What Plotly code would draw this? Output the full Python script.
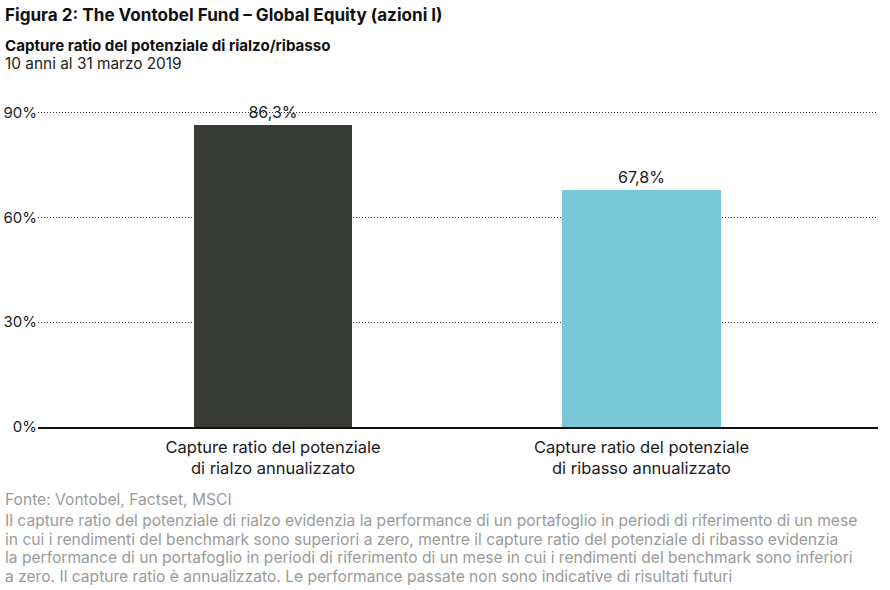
import plotly.graph_objects as go

# ── Data ────────────────────────────────────────────────────────
categories = ["Capture ratio del potenziale<br>di rialzo annualizzato",
              "Capture ratio del potenziale<br>di ribasso annualizzato"]
values = [86.3, 67.8]
value_labels = ["86,3%", "67,8%"]
bar_colors = ["#373a35", "#79c8d7"]
y_ticks = [0, 30, 60, 90]
y_tick_labels = ["0%", "30%", "60%", "90%"]

title = "Figura 2: The Vontobel Fund – Global Equity (azioni I)"
subtitle = "Capture ratio del potenziale di rialzo/ribasso"
period = "10 anni al 31 marzo 2019"
source = "Fonte: Vontobel, Factset, MSCI"
notes = [
    "Il capture ratio del potenziale di rialzo evidenzia la performance di un portafoglio in periodi di riferimento di un mese",
    "in cui i rendimenti del benchmark sono superiori a zero, mentre il capture ratio del potenziale di ribasso evidenzia",
    "la performance di un portafoglio in periodi di riferimento di un mese in cui i rendimenti del benchmark sono inferiori",
    "a zero. Il capture ratio è annualizzato. Le performance passate non sono indicative di risultati futuri",
]

FONT = "Inter"
W, H = 890, 590
L, R, T, B = 38, 12, 94.5, 163


def px(x, y):
    # pixel position -> paper coords
    return (x - L) / (W - L - R), 1 - (y - T) / (H - T - B)


fig = go.Figure()
fig.add_trace(go.Bar(
    x=[0, 1], y=values,
    marker=dict(color=bar_colors, line=dict(width=0)),
    width=0.43,
    text=value_labels, textposition="outside",
    textfont=dict(family=FONT, size=16, color="#1a1a1a"),
    cliponaxis=False,
    hoverinfo="skip",
))

annots = []
for txt, y, size, bold, color in [
    (title, 14, 17.1, True, "#111"),
    (subtitle, 45, 15.1, True, "#111"),
    (period, 63, 15.4, False, "#222"),
]:
    ax, ay = px(3, y)
    annots.append(dict(text=f"<b>{txt}</b>" if bold else txt, x=ax, y=ay,
                       xref="paper", yref="paper", xanchor="left", yanchor="middle",
                       showarrow=False, font=dict(family=FONT, size=size, color=color)))

ax, ay = px(3, 500)
annots.append(dict(text=source, x=ax, y=ay, xref="paper", yref="paper",
                   xanchor="left", yanchor="middle", showarrow=False,
                   font=dict(family=FONT, size=15.6, color="#9a9a9a")))
for i, line in enumerate(notes):
    ax, ay = px(3, 521 + i * 18.5)
    annots.append(dict(text=line, x=ax, y=ay, xref="paper", yref="paper",
                       xanchor="left", yanchor="middle", showarrow=False,
                       font=dict(family=FONT, size=15.6, color="#9a9a9a")))

fig.update_layout(
    width=W, height=H,
    margin=dict(l=L, r=R, t=T, b=B, pad=0),
    paper_bgcolor="white", plot_bgcolor="white",
    showlegend=False,
    bargap=0,
    annotations=annots,
    xaxis=dict(
        range=[-0.638, 1.642], automargin=False,
        tickvals=[0, 1], ticktext=categories,
        tickfont=dict(family=FONT, size=16.5, color="#1a1a1a"),
        ticks="outside", ticklen=4, tickcolor="rgba(0,0,0,0)",
        showline=True, linecolor="#111", linewidth=1.5,
        showgrid=False, zeroline=False,
    ),
    yaxis=dict(
        range=[0, 95], automargin=False,
        tickvals=y_ticks, ticktext=y_tick_labels,
        tickfont=dict(family=FONT, size=15, color="#1a1a1a"),
        showgrid=True, gridcolor="#333", gridwidth=1, griddash="1px,2px",
        zeroline=False, showline=False, ticks="",
    ),
)

# drop the default 8px body margin so the figure sits at the window corner
fig.write_html("out.html", config={"displayModeBar": False},
               post_script="document.body.style.margin='0';")
